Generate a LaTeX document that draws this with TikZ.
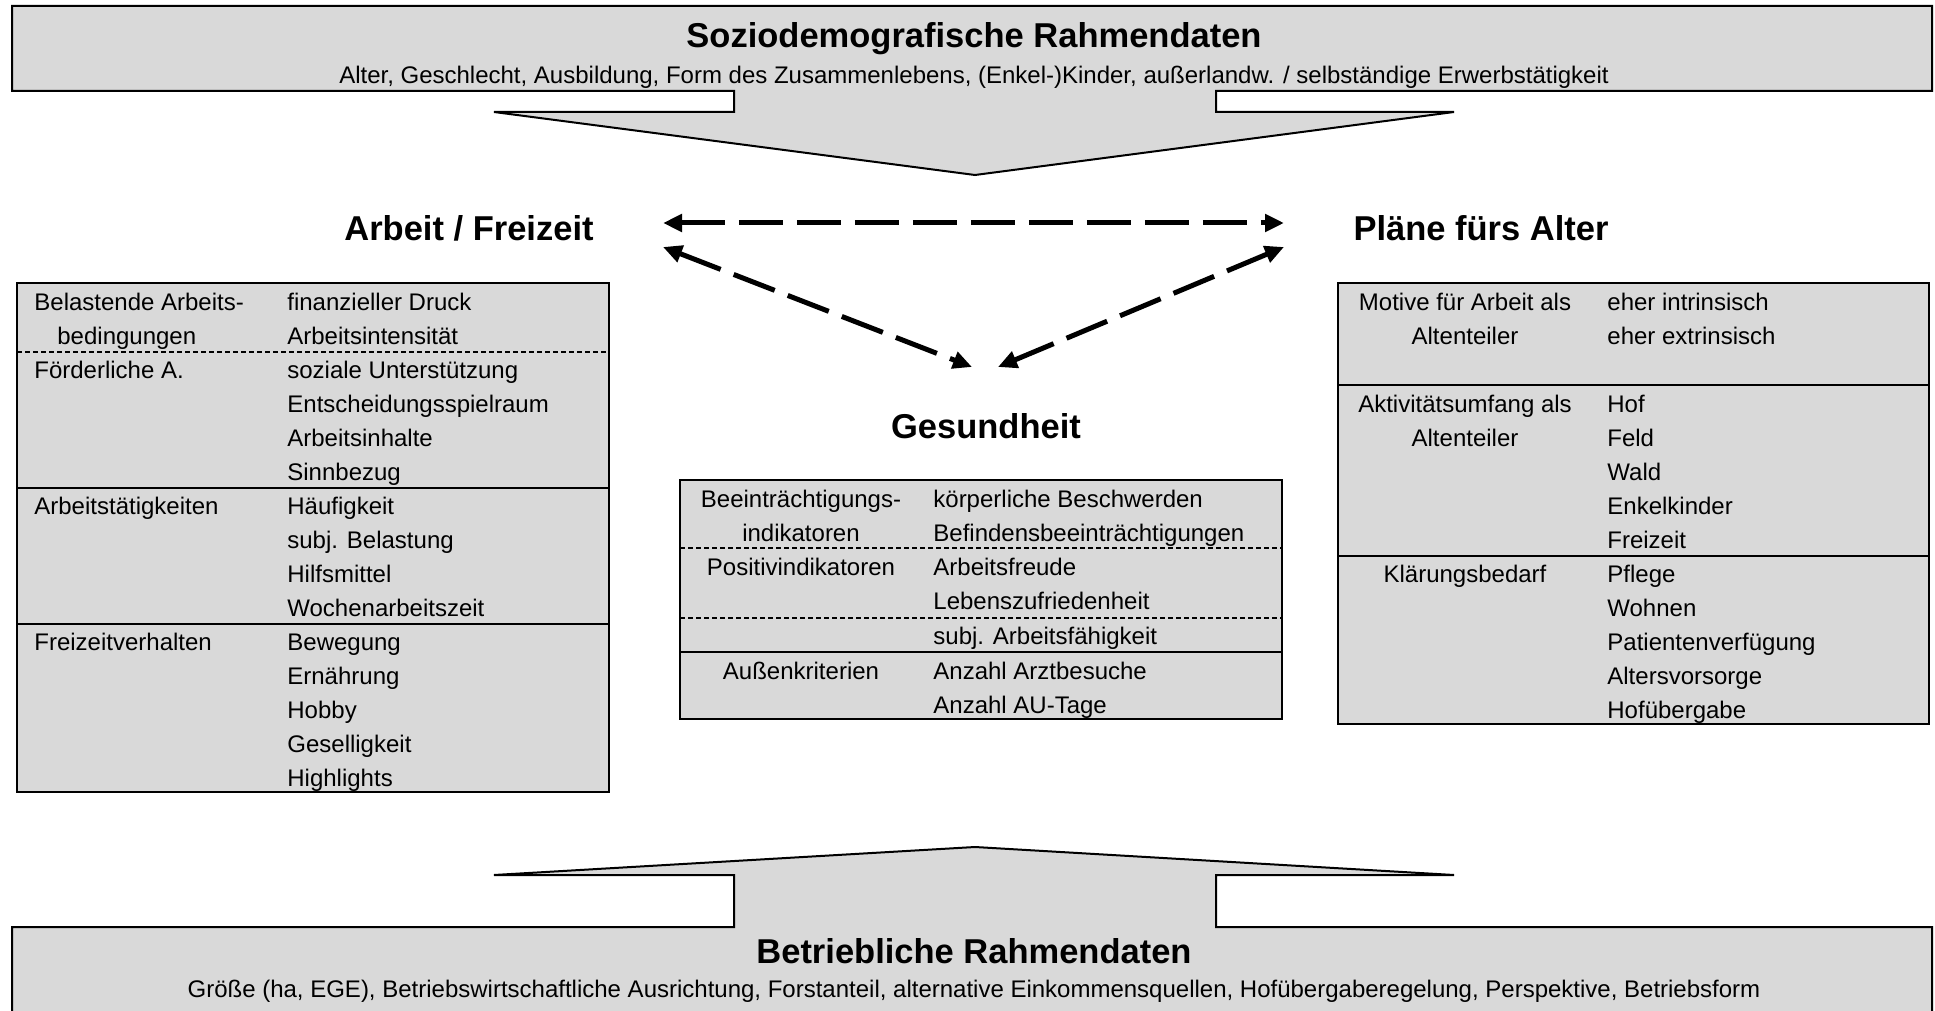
\documentclass[tikz,border=0pt]{standalone}
\usepackage{fontspec}
\setmainfont{Liberation Sans}
\usetikzlibrary{arrows.meta}
\definecolor{boxgray}{RGB}{217,217,217}
\newcommand{\bodyfs}{\fontsize{12pt}{17pt}\selectfont}
\newcommand{\midfs}{\fontsize{12pt}{16.75pt}\selectfont}
\newcommand{\headfs}{\fontsize{17.25pt}{20pt}\selectfont\bfseries}
\begin{document}
\begin{tikzpicture}[x=0.5pt,y=-0.5pt,
  bigshape/.style={fill=boxgray, draw=black, line width=1pt, line join=miter},
  tbl/.style={fill=boxgray, draw=black, line width=1pt},
  sepsolid/.style={draw=black, line width=1pt},
  sepdash/.style={draw=black, line width=1pt, dash pattern=on 2.5pt off 1.5pt},
  cell/.style={anchor=north west, inner sep=0pt, align=left, font=\bodyfs},
  ccell/.style={anchor=north, inner sep=0pt, align=center, font=\bodyfs},
  mcell/.style={cell, font=\midfs},
  mccell/.style={ccell, font=\midfs},
  head/.style={anchor=base, inner sep=0pt, font=\headfs},
  subline/.style={anchor=base, inner sep=0pt, font=\bodyfs},
  link/.style={line width=2.5pt, dash pattern=on 22pt off 7pt,
    {Triangle[length=9.5pt,width=8.5pt]}-{Triangle[length=9.5pt,width=8.5pt]}}]
\useasboundingbox (0,0) rectangle (1935,1011);

% top banner with downward arrow
\draw[bigshape] (12,6) -- (1932,6) -- (1932,91) -- (1216,91) -- (1216,112)
  -- (1454,112) -- (975,175) -- (494,112) -- (734,112) -- (734,91) -- (12,91) -- cycle;
\node[head] (soz) at (974,48) {Soziodemografische Rahmendaten};
\node[subline] (sozs) at (974,84) {Alter, Geschlecht, Ausbildung, Form des Zusammenlebens, (Enkel-)Kinder, außerlandw. / selbständige Erwerbstätigkeit};

% bottom banner with upward arrow
\draw[bigshape] (12,1020) -- (12,927) -- (734,927) -- (734,875) -- (494,875)
  -- (975,847) -- (1454,875) -- (1216,875) -- (1216,927) -- (1932,927) -- (1932,1020);
\node[head] (bet) at (974,963) {Betriebliche Rahmendaten};
\node[subline] (bets) at (974,997) {Größe (ha, EGE), Betriebswirtschaftliche Ausrichtung, Forstanteil, alternative Einkommensquellen, Hofübergaberegelung, Perspektive, Betriebsform};

% headings
\node[head] (arb) at (469,241) {Arbeit / Freizeit};
\node[head] (pla) at (1481,241) {Pläne fürs Alter};
\node[head] (ges) at (986,438) {Gesundheit};

% dashed connectors
\coordinate (aE) at (663,223);
\coordinate (pW) at (1284,223);
\coordinate (aSE) at (663,247);
\coordinate (gNW) at (972,367);
\coordinate (pSW) at (1284,247);
\coordinate (gNE) at (998,367);
\draw[link] (aE) -- (pW);
\draw[link] (aSE) -- (gNW);
\draw[link] (pSW) -- (gNE);

% left table
\draw[tbl] (17,283) rectangle (609,792);
\draw[sepdash] (17,352) -- (609,352);
\draw[sepsolid] (17,488) -- (609,488);
\draw[sepsolid] (17,624) -- (609,624);
\node[cell] (L1a) at (34,286) {\strut Belastende Arbeits-\\\hspace*{11.5pt}bedingungen};
\node[cell] (L1b) at (287,286) {\strut finanzieller Druck\\Arbeitsintensität};
\node[cell] (L2a) at (34,354) {\strut Förderliche A.};
\node[cell] (L2b) at (287,354) {\strut soziale Unterstützung\\Entscheidungsspielraum\\Arbeitsinhalte\\Sinnbezug};
\node[cell] (L3a) at (34,490) {\strut Arbeitstätigkeiten};
\node[cell] (L3b) at (287,490) {\strut Häufigkeit\\subj. Belastung\\Hilfsmittel\\Wochenarbeitszeit};
\node[cell] (L4a) at (34,626) {\strut Freizeitverhalten};
\node[cell] (L4b) at (287,626) {\strut Bewegung\\Ernährung\\Hobby\\Geselligkeit\\Highlights};

% middle table
\draw[tbl] (680,480) rectangle (1282,719);
\draw[sepdash] (680,548) -- (1282,548);
\draw[sepdash] (680,618) -- (1282,618);
\draw[sepsolid] (680,652) -- (1282,652);
\node[mccell] (M1a) at (801,484) {\strut Beeinträchtigungs-\\indikatoren};
\node[mcell] (M1b) at (933,484) {\strut körperliche Beschwerden\\Befindensbeeinträchtigungen};
\node[mccell] (M2a) at (801,552) {\strut Positivindikatoren};
\node[mcell] (M2b) at (933,552) {\strut Arbeitsfreude\\Lebenszufriedenheit};
\node[mcell] (M3b) at (933,621) {\strut subj. Arbeitsfähigkeit};
\node[mccell] (M4a) at (801,656) {\strut Außenkriterien};
\node[mcell] (M4b) at (933,656) {\strut Anzahl Arztbesuche\\Anzahl AU-Tage};

% right table
\draw[tbl] (1338,283) rectangle (1929,724);
\draw[sepsolid] (1338,385) -- (1929,385);
\draw[sepsolid] (1338,556) -- (1929,556);
\node[ccell] (R1a) at (1465,286) {\strut Motive für Arbeit als\\Altenteiler};
\node[cell] (R1b) at (1607,286) {\strut eher intrinsisch\\eher extrinsisch};
\node[ccell] (R2a) at (1465,388) {\strut Aktivitätsumfang als\\Altenteiler};
\node[cell] (R2b) at (1607,388) {\strut Hof\\Feld\\Wald\\Enkelkinder\\Freizeit};
\node[ccell] (R3a) at (1465,558) {\strut Klärungsbedarf};
\node[cell] (R3b) at (1607,558) {\strut Pflege\\Wohnen\\Patientenverfügung\\Altersvorsorge\\Hofübergabe};
\end{tikzpicture}
\end{document}
